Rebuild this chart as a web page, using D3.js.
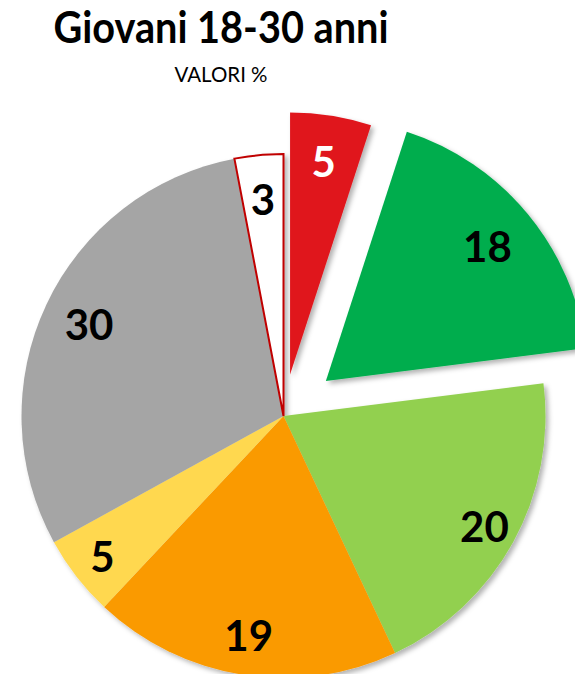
<!DOCTYPE html>
<html>
<head>
<meta charset="utf-8">
<script src="https://cdn.jsdelivr.net/npm/d3@7"></script>
<style>
  body { margin: 0; background: #fff; }
  svg { display: block; }
  text { font-family: Lato, "Open Sans", sans-serif; }
</style>
</head>
<body>
<svg width="575" height="674"></svg>
<script>
const values = [5, 18, 20, 19, 5, 30, 3];
const colors = ["#E0161F", "#00AD4E", "#92D050", "#FA9A00", "#FFD84F", "#A5A5A5", "#FFFFFF"];
const labelColors = ["#FFFFFF", "#000", "#000", "#000", "#000", "#000", "#000"];
const explode = [42, 55, 0, 0, 0, 0, 0];
const labelRadius = [0.82, 0.80, 0.875, 0.85, 0.875, 0.82, 0.83];

const svg = d3.select("svg"),
    width = +svg.attr("width"),
    height = +svg.attr("height");

const cx = 283.5, cy = 416, radius = 262;

const defs = svg.append("defs");
const shadow = defs.append("filter")
    .attr("id", "shadow")
    .attr("x", "-20%").attr("y", "-20%")
    .attr("width", "140%").attr("height", "140%");
shadow.append("feDropShadow")
    .attr("dx", 3).attr("dy", 3)
    .attr("stdDeviation", 2.5)
    .attr("flood-color", "#000")
    .attr("flood-opacity", 0.3);

svg.append("text")
    .attr("x", 221).attr("y", 43)
    .attr("text-anchor", "middle")
    .attr("font-weight", "bold")
    .attr("font-size", 43)
    .attr("textLength", 335)
    .attr("lengthAdjust", "spacingAndGlyphs")
    .text("Giovani 18-30 anni");

svg.append("text")
    .attr("x", 221).attr("y", 82)
    .attr("text-anchor", "middle")
    .attr("font-size", 21)
    .attr("textLength", 93)
    .attr("lengthAdjust", "spacingAndGlyphs")
    .text("VALORI %");

const pie = d3.pie().sort(null).value(d => d);
const arcs = pie(values);

const arc = d3.arc().innerRadius(0).outerRadius(radius);

const g = svg.append("g")
    .attr("transform", `translate(${cx},${cy})`);

// slices that stay in place share one shadow so no seams appear between them
const base = g.append("g").attr("filter", "url(#shadow)");

arcs.forEach((d, i) => {
  const mid = (d.startAngle + d.endAngle) / 2;
  const parent = explode[i] ? g.append("g").attr("filter", "url(#shadow)") : base;
  parent.append("path")
      .attr("transform", `translate(${Math.sin(mid) * explode[i]},${-Math.cos(mid) * explode[i]})`)
      .attr("d", arc(d))
      .attr("fill", colors[i])
      .attr("stroke", i === 6 ? "#C00000" : "none")
      .attr("stroke-width", 2);
});

g.selectAll("text.label")
    .data(arcs)
    .enter().append("text")
    .attr("class", "label")
    .attr("transform", (d, i) => {
      const mid = (d.startAngle + d.endAngle) / 2;
      const r = radius * labelRadius[i] + explode[i];
      return `translate(${Math.sin(mid) * r},${-Math.cos(mid) * r})`;
    })
    .attr("text-anchor", "middle")
    .attr("dy", "0.36em")
    .attr("font-weight", "bold")
    .attr("font-size", 42)
    .attr("fill", (d, i) => labelColors[i])
    .text(d => d.data);
</script>
</body>
</html>
